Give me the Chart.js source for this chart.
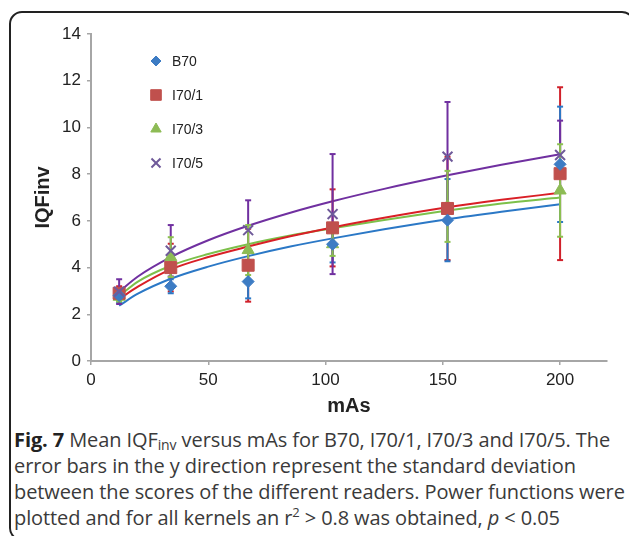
<!DOCTYPE html>
<html>
<head>
<meta charset="utf-8">
<script src="https://cdn.jsdelivr.net/npm/chart.js@4"></script>
<style>
  body { margin: 0; background: #fff; width: 629px; height: 536px; overflow: hidden; position: relative; }
  #frame { position: absolute; left: 9px; top: 11px; width: 626px; height: 530px; border: 2px solid #222; border-radius: 13px; box-sizing: border-box; }
  #chart { position: absolute; left: 0; top: 0; }
  #caption { position: absolute; left: 14px; top: 427px; font-family: "Open Sans", sans-serif; font-size: 20px; line-height: 26px; color: #3a3a3a; white-space: nowrap; letter-spacing: -0.1px; }
  #caption b { color: #222; }
  #caption sub { font-size: 14px; vertical-align: -3px; line-height: 0; }
  #caption sup { font-size: 13px; vertical-align: 8px; line-height: 0; }
</style>
</head>
<body>
<div id="frame"></div>
<canvas id="chart" width="629" height="425"></canvas>
<div id="caption">
  <b>Fig. 7</b> Mean IQF<sub>inv</sub> versus mAs for B70, I70/1, I70/3 and I70/5. The<br>
  error bars in the y direction represent the standard deviation<br>
  between the scores of the different readers. Power functions were<br>
  plotted and for all kernels an r<sup>2</sup> &gt; 0.8 was obtained, <i>p</i> &lt; 0.05
</div>
<script>
// measured points (mAs) and mean IQFinv per kernel
const mAs = [12, 34, 67, 103, 152, 200];
const b70 = [2.8, 3.2, 3.4, 5.0, 6.03, 8.42];
const b70Sd = [0.3, 0.3, 0.72, 0.78, 1.76, 2.47];
const i701 = [2.9, 4.0, 4.1, 5.7, 6.53, 8.02];
const i701Sd = [0.3, 1.02, 1.56, 1.65, 2.21, 3.7];
const i703 = [2.75, 4.45, 4.75, 5.0, 6.62, 7.3];
const i703Sd = [0.2, 0.85, 1.07, 0.5, 1.52, 1.98];
const i705 = [2.97, 4.72, 5.6, 6.29, 8.75, 8.82];
const i705Sd = [0.53, 1.1, 1.28, 2.57, 2.34, 1.47];

// power trend lines at these mAs values
const fitX = [12, 20, 34, 50, 67, 85, 103, 125, 152, 175, 200];
const b70Fit = [2.37, 2.88, 3.52, 4.04, 4.49, 4.9, 5.25, 5.64, 6.07, 6.39, 6.71];
const i701Fit = [2.65, 3.18, 3.92, 4.45, 4.9, 5.34, 5.72, 6.13, 6.58, 6.9, 7.2];
const i703Fit = [2.78, 3.4, 4.08, 4.58, 5.0, 5.37, 5.68, 6.04, 6.44, 6.74, 7.0];
const i705Fit = [2.97, 3.62, 4.45, 5.17, 5.79, 6.35, 6.84, 7.37, 7.95, 8.4, 8.85];

const xTicks = [0, 50, 100, 150, 200];
const yTicks = [0, 2, 4, 6, 8, 10, 12, 14];

const labels = ["B70", "I70/1", "I70/3", "I70/5"];
const markerStyle = [
  { pointStyle: "rectRot", radius: 6, legendRadius: 5, fill: "#3d7cc4", stroke: "#3d7cc4", width: 1 },
  { pointStyle: "rect", radius: 8.5, legendRadius: 7.5, fill: "#c0504d", stroke: "#c0504d", width: 1 },
  { pointStyle: "triangle", radius: 7, legendRadius: 6, fill: "#8dbb55", stroke: "#8dbb55", width: 1 },
  { pointStyle: "crossRot", radius: 7, legendRadius: 6.4, fill: "#6f5a9a", stroke: "#6f5a9a", width: 2 },
];
const lineColors = ["#2b78c6", "#d91f26", "#7cc04a", "#7030a0"];
const barColors = ["#2b78c6", "#d0202a", "#8cc050", "#7030a0"];

const means = [b70, i701, i703, i705];
const sds = [b70Sd, i701Sd, i703Sd, i705Sd];
const fits = [b70Fit, i701Fit, i703Fit, i705Fit];

const toPoints = (xs, ys) => xs.map((x, i) => ({ x: x, y: ys[i] }));

function errorPoints(m, sd) {
  const pts = [];
  mAs.forEach((x, i) => {
    pts.push({ x: x, y: m[i] - sd[i] });
    pts.push({ x: x, y: m[i] + sd[i] });
    pts.push({ x: x, y: null });
  });
  return pts;
}

const datasets = [];
// markers first so they end up on top
[3, 0, 1, 2].forEach((k) => {
  const s = markerStyle[k];
  datasets.push({
    label: labels[k],
    data: toPoints(mAs, means[k]),
    pointStyle: s.pointStyle,
    pointRadius: s.radius,
    backgroundColor: s.fill,
    borderColor: s.stroke,
    borderWidth: s.width,
    showLine: false,
  });
});
[2, 3, 0, 1].forEach((k) => {
  datasets.push({
    label: labels[k] + " sd",
    data: errorPoints(means[k], sds[k]),
    showLine: true,
    spanGaps: false,
    borderColor: barColors[k],
    borderWidth: 2,
    pointStyle: "line",
    pointRadius: 3,
    pointBorderWidth: 2,
    pointBorderColor: barColors[k],
  });
});
[3, 1, 2, 0].forEach((k) => {
  datasets.push({
    label: labels[k] + " fit",
    data: toPoints(fitX, fits[k]),
    showLine: true,
    borderColor: lineColors[k],
    borderWidth: 2,
    pointRadius: 0,
    cubicInterpolationMode: "monotone",
  });
});

// legend drawn inside the plot, Excel style
const insideLegend = {
  id: "insideLegend",
  afterDraw(chart) {
    const ctx = chart.ctx;
    const area = chart.chartArea;
    ctx.save();
    labels.forEach((text, k) => {
      const s = markerStyle[k];
      const y = area.top + 27 + k * 34;
      ctx.fillStyle = s.fill;
      ctx.strokeStyle = s.stroke;
      ctx.lineWidth = s.width;
      Chart.helpers.drawPoint(ctx, { pointStyle: s.pointStyle, radius: s.legendRadius, rotation: 0, borderWidth: s.width }, area.left + 65, y);
      ctx.fillStyle = "#222";
      ctx.font = "14px 'Liberation Sans', Arial, sans-serif";
      ctx.textBaseline = "middle";
      ctx.fillText(text, area.left + 81, y + 1);
    });
    ctx.restore();
  },
};

Chart.defaults.font.family = "'Liberation Sans', Arial, sans-serif";
Chart.defaults.color = "#222";

new Chart(document.getElementById("chart"), {
  type: "scatter",
  data: { datasets: datasets },
  options: {
    responsive: false,
    animation: false,
    devicePixelRatio: 1,
    layout: { padding: { left: 0, right: 22, top: 34, bottom: 0 } },
    plugins: { legend: { display: false }, tooltip: { enabled: false } },
    scales: {
      x: {
        type: "linear",
        min: 0,
        max: 220,
        afterBuildTicks: (axis) => { axis.ticks = xTicks.map((v) => ({ value: v })); },
        afterFit: (axis) => { axis.height = 64; },
        ticks: { font: { size: 17 }, padding: 5, color: "#222" },
        grid: { drawOnChartArea: false, drawTicks: true, tickLength: 4, color: "#a6a6a6", lineWidth: 1.5 },
        border: { color: "#a6a6a6", width: 2 },
        title: { display: true, text: "mAs", font: { size: 20, weight: "bold" }, color: "#222", padding: { top: 0, bottom: 7 } },
      },
      y: {
        min: 0,
        max: 14,
        afterBuildTicks: (axis) => { axis.ticks = yTicks.map((v) => ({ value: v })); },
        afterFit: (axis) => { axis.width = 91; },
        ticks: { font: { size: 17 }, padding: 6, color: "#222" },
        grid: { drawOnChartArea: false, drawTicks: true, tickLength: 4, color: "#a6a6a6", lineWidth: 1.5 },
        border: { color: "#a6a6a6", width: 2 },
        title: { display: true, text: "IQFinv", font: { size: 20, weight: "bold" }, color: "#222", padding: { top: 31, bottom: 0 } },
      },
    },
  },
  plugins: [insideLegend],
});
</script>
</body>
</html>
